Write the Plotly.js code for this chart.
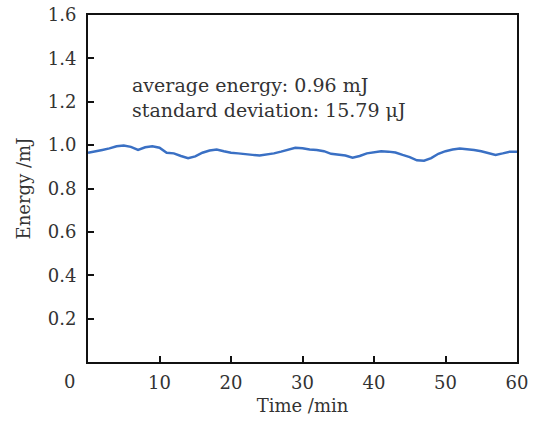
<!DOCTYPE html>
<html>
<head>
<meta charset="utf-8">
<script src="https://cdn.plot.ly/plotly-3.0.1.min.js"></script>
<style>html,body{margin:0;padding:0;background:#fff;}#chart{width:537px;height:421px;}</style>
</head>
<body>
<div id="chart"></div>
<script>
const timeMin = [0,1,2,3,4,5,6,7,8,9,10,11,12,13,14,15,16,17,18,19,20,21,22,23,24,25,26,27,28,29,30,31,32,33,34,35,36,37,38,39,40,41,42,43,44,45,46,47,48,49,50,51,52,53,54,55,56,57,58,59,60];
const energy = [0.965,0.970,0.978,0.985,0.995,0.998,0.992,0.978,0.990,0.995,0.988,0.965,0.962,0.950,0.940,0.948,0.965,0.975,0.980,0.972,0.965,0.962,0.960,0.955,0.952,0.956,0.962,0.970,0.980,0.988,0.986,0.980,0.978,0.972,0.960,0.955,0.952,0.942,0.950,0.962,0.968,0.972,0.970,0.966,0.955,0.945,0.930,0.928,0.940,0.960,0.972,0.980,0.984,0.982,0.978,0.972,0.962,0.955,0.962,0.970,0.970];
const xTicks = [10,20,30,40,50,60];
const yTicks = [0.2,0.4,0.6,0.8,1.0,1.2,1.4,1.6];
const yTickText = ['0.2','0.4','0.6','0.8','1.0','1.2','1.4','1.6'];
const noteLines = ['average energy: 0.96 mJ','standard deviation: 15.79 \u03bcJ'];

const font = {family: 'DejaVu Serif, serif', size: 18, color: '#333'};
const noteFont = {family: 'DejaVu Serif, serif', size: 19, color: '#333'};
const axisCommon = {
  showgrid: false, zeroline: false, showline: true, linecolor: '#111', linewidth: 2,
  mirror: true, ticks: 'inside', ticklen: 6, tickwidth: 2, tickcolor: '#111',
  tickfont: font
};
Plotly.newPlot('chart', [{
  x: timeMin, y: energy, type: 'scatter', mode: 'lines',
  line: {color: '#3a70c4', width: 2.5}, hoverinfo: 'skip'
}], {
  width: 537, height: 421,
  margin: {l: 88, r: 20, t: 15, b: 59},
  paper_bgcolor: '#fff', plot_bgcolor: '#fff',
  showlegend: false,
  font: font,
  xaxis: Object.assign({}, axisCommon, {
    range: [0, 60], tickmode: 'array', tickvals: xTicks,
    ticktext: xTicks.map(String), ticklabelstandoff: 3,
    title: {text: 'Time /min', font: font, standoff: 8}
  }),
  yaxis: Object.assign({}, axisCommon, {
    range: [0, 1.6], tickmode: 'array', tickvals: yTicks, ticktext: yTickText,
    ticklabelstandoff: 6,
    title: {text: 'Energy /mJ', font: font, standoff: 12}
  }),
  annotations: [
    {xref: 'paper', yref: 'paper', x: -0.042, y: 0, xanchor: 'center', yanchor: 'top',
     yshift: -7, text: '0', showarrow: false, font: font},
    {xref: 'paper', yref: 'paper', x: 0.098, y: 0.835, xanchor: 'left', yanchor: 'top',
     align: 'left', text: noteLines.join('<br>'), showarrow: false, font: noteFont}
  ]
}, {staticPlot: true});
</script>
</body>
</html>
